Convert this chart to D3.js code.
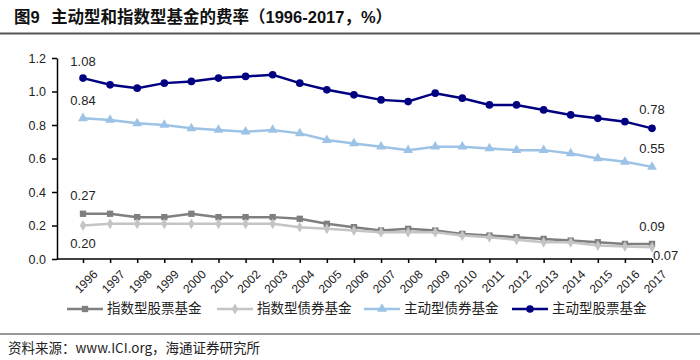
<!DOCTYPE html>
<html><head><meta charset="utf-8">
<script src="https://cdn.jsdelivr.net/npm/d3@7"></script>
<style>
body{margin:0;background:#fff;}
svg{display:block;font-family:Arial,"Liberation Sans","Noto Sans CJK SC",sans-serif;}
</style></head>
<body><svg id="c" width="700" height="360"></svg>
<script>
const years = ["1996","1997","1998","1999","2000","2001","2002","2003","2004","2005","2006","2007","2008","2009","2010","2011","2012","2013","2014","2015","2016","2017"];
const indexEquity = [0.27,0.27,0.25,0.25,0.27,0.25,0.25,0.25,0.24,0.21,0.19,0.17,0.18,0.17,0.15,0.14,0.13,0.12,0.11,0.10,0.09,0.09];
const indexBond   = [0.20,0.21,0.21,0.21,0.21,0.21,0.21,0.21,0.19,0.18,0.17,0.16,0.16,0.16,0.14,0.13,0.115,0.10,0.10,0.08,0.075,0.07];
const activeBond  = [0.84,0.83,0.81,0.80,0.78,0.77,0.76,0.77,0.75,0.71,0.69,0.67,0.65,0.67,0.67,0.66,0.65,0.65,0.63,0.60,0.58,0.55];
const activeEquity= [1.08,1.04,1.02,1.05,1.06,1.08,1.09,1.10,1.05,1.01,0.98,0.95,0.94,0.99,0.96,0.92,0.92,0.89,0.86,0.84,0.82,0.78];
const yTicks = [0,0.2,0.4,0.6,0.8,1.0,1.2];
const seriesNames = ["指数型股票基金","指数型债券基金","主动型债券基金","主动型股票基金"];
const figNo = "图9";
const titleText = "主动型和指数型基金的费率（1996-2017，%）";
const sourceText = "资料来源：www.ICI.org，海通证券研究所";

const series = [
  {name:seriesNames[0], values:indexEquity, color:"#7f7f7f", marker:d3.symbolSquare, size:40, first:"0.27", last:"0.09", fdy:-17, ldy:-16},
  {name:seriesNames[1], values:indexBond, color:"#c4c4c4", marker:d3.symbolDiamond, size:34, first:"0.20", last:"0.07", fdy:19, ldy:0},
  {name:seriesNames[2], values:activeBond, color:"#9cc2e5", marker:d3.symbolTriangle, size:42, first:"0.84", last:"0.55", fdy:-17, ldy:-17},
  {name:seriesNames[3], values:activeEquity, color:"#000080", marker:d3.symbolCircle, size:46, first:"1.08", last:"0.78", fdy:-16, ldy:-18}
];

const svg = d3.select("#c");
// title
svg.append("text").attr("x",14).attr("y",23).attr("font-size",16.5).attr("font-weight","bold")
  .attr("fill","#111").attr("font-family","Arial,'Noto Sans CJK SC',sans-serif").text(figNo);
svg.append("text").attr("x",51).attr("y",23).attr("font-size",16.5).attr("font-weight","bold")
  .attr("fill","#111").attr("font-family","Arial,'Noto Sans CJK SC',sans-serif").text(titleText);
svg.append("line").attr("x1",0).attr("x2",700).attr("y1",33.5).attr("y2",33.5).attr("stroke","#555").attr("stroke-width",2);

const x = d3.scalePoint().domain(years).range([83,652]);
const y = d3.scaleLinear().domain([0,1.2]).range([259,58]);
const axisLeftX = 57;

// y axis
const ya = svg.append("g").attr("transform",`translate(${axisLeftX},0)`)
  .call(d3.axisLeft(y).tickValues(yTicks).tickFormat(d3.format(".1f")).tickSize(5).tickSizeOuter(0));
ya.select(".domain").attr("stroke","#000").attr("stroke-width",1.5);
ya.selectAll(".tick line").attr("stroke","#000").attr("stroke-width",1.5);
ya.selectAll("text").attr("font-size",12.5).attr("fill","#222").attr("dx",-3).attr("font-family","Arial,'Liberation Sans',sans-serif");

// x axis
const xa = svg.append("g").attr("transform",`translate(0,${y(0)})`)
  .call(d3.axisBottom(x).tickSize(4).tickSizeOuter(0));
xa.select(".domain").attr("d",`M${axisLeftX},0H${x(years[years.length-1])}`).attr("stroke","#000").attr("stroke-width",1.5);
xa.selectAll(".tick line").attr("stroke","#000").attr("stroke-width",1.5);
xa.selectAll("text").attr("font-size",12).attr("fill","#222")
  .attr("text-anchor","end").attr("transform","translate(5,6) rotate(-45)").attr("dy","0.6em").attr("dx","0")
  .attr("font-family","Arial,'Liberation Sans',sans-serif");

const line = d3.line().x((d,i)=>x(years[i])).y(d=>y(d));
series.forEach(s=>{
  svg.append("path").datum(s.values).attr("d",line).attr("fill","none").attr("stroke",s.color).attr("stroke-width",2.5);
  svg.append("g").selectAll("path").data(s.values).join("path")
    .attr("transform",(d,i)=>`translate(${x(years[i])},${y(d)})`)
    .attr("d",d3.symbol(s.marker,s.size)).attr("fill",s.color);
  svg.append("text").attr("x",x(years[0])).attr("y",y(s.values[0])+s.fdy).attr("text-anchor","middle")
    .attr("dominant-baseline","middle").attr("font-size",13).attr("fill","#222").text(s.first);
  const lx = s.ldy===0 ? x(years[years.length-1])+1 : x(years[years.length-1]);
  svg.append("text").attr("x",lx).attr("y",s.ldy===0 ? 257 : y(s.values[s.values.length-1])+s.ldy)
    .attr("text-anchor",s.ldy===0?"start":"middle").attr("dominant-baseline","middle")
    .attr("font-size",13).attr("fill","#222").text(s.last);
});

// legend
const legendX = [67,217,364,512];
series.forEach((s,i)=>{
  const g = svg.append("g").attr("transform",`translate(${legendX[i]},309)`);
  g.append("line").attr("x1",0).attr("x2",36).attr("stroke",s.color).attr("stroke-width",2.5);
  g.append("path").attr("transform","translate(18,0)").attr("d",d3.symbol(s.marker,s.size)).attr("fill",s.color);
  g.append("text").attr("x",40).attr("y",0).attr("dominant-baseline","middle").attr("font-size",13.5)
    .attr("fill","#222").attr("font-family","'Noto Sans CJK SC',sans-serif").text(s.name);
});

// footer
svg.append("line").attr("x1",0).attr("x2",700).attr("y1",334).attr("y2",334).attr("stroke","#333").attr("stroke-width",1);
svg.append("text").attr("x",8).attr("y",349).attr("dominant-baseline","middle").attr("font-size",13.5)
  .attr("fill","#222").attr("font-family","'Noto Sans CJK SC',sans-serif").text(sourceText);
</script></body></html>
